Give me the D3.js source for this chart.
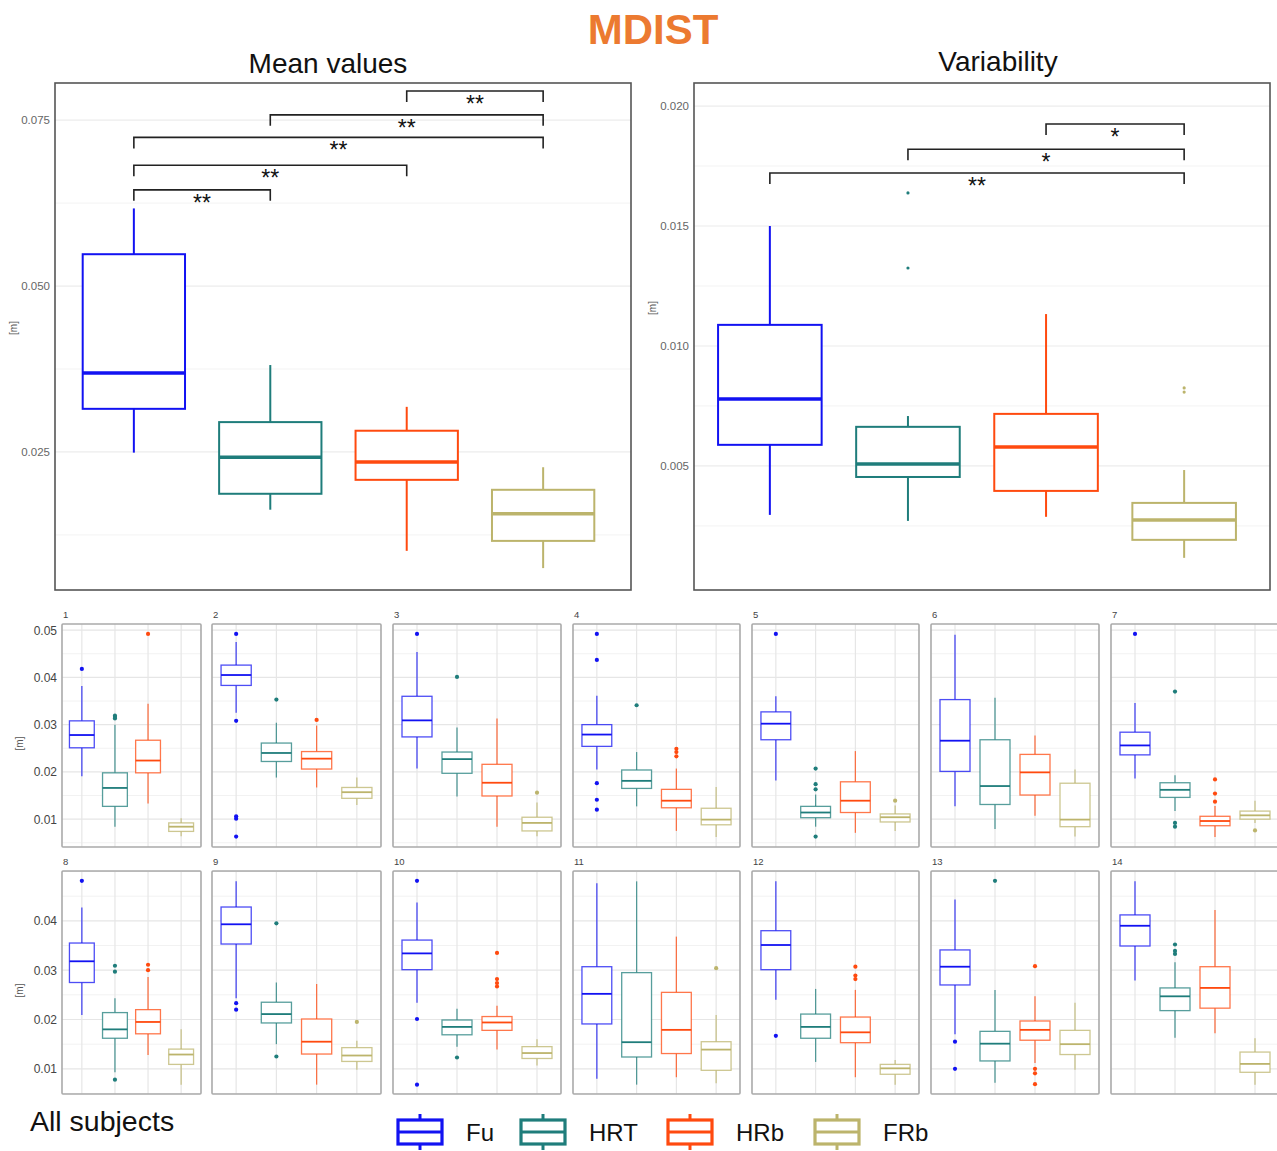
<!DOCTYPE html>
<html>
<head>
<meta charset="utf-8">
<script src="https://cdn.jsdelivr.net/npm/d3@7"></script>
<style>
  body { margin: 0; background: #fff; }
  svg { display: block; font-family: "Liberation Sans", Arial, sans-serif; }
</style>
</head>
<body>
<svg id="chart" width="1277" height="1151"></svg>
<script>
// groups and colours
const groups = ["Fu", "HRT", "HRb", "FRb"];
const colors = ["#1212f2", "#1f7d7b", "#ff4a0f", "#bcb46c"];

// box stats: [lower whisker, q1, median, q3, upper whisker]
const meanStats = [
  [0.0249, 0.0315, 0.0369, 0.0548, 0.0617],
  [0.0163, 0.0187, 0.0242, 0.0295, 0.0381],
  [0.0101, 0.0208, 0.0235, 0.0282, 0.0318],
  [0.0075, 0.0116, 0.0157, 0.0193, 0.0227]
];
const meanOutliers = [[], [], [], []];
const meanTicks = [0.025, 0.05, 0.075];
const meanLabels = ["0.025", "0.050", "0.075"];
// [from group, to group, height, label]
const meanBrackets = [
  [2, 3, 0.0794, "**"],
  [1, 3, 0.0758, "**"],
  [0, 3, 0.0724, "**"],
  [0, 2, 0.0682, "**"],
  [0, 1, 0.0645, "**"]
];

const varStats = [
  [0.00296, 0.00588, 0.00779, 0.01088, 0.0150],
  [0.00271, 0.00454, 0.00508, 0.00663, 0.00708],
  [0.00288, 0.00396, 0.00579, 0.00717, 0.01133],
  [0.00117, 0.00192, 0.00275, 0.00346, 0.00483]
];
const varOutliers = [[], [0.01638, 0.01325], [], [0.00825, 0.00808]];
const varTicks = [0.005, 0.010, 0.015, 0.020];
const varLabels = ["0.005", "0.010", "0.015", "0.020"];
const varBrackets = [
  [2, 3, 0.01925, "*"],
  [1, 3, 0.0182, "*"],
  [0, 3, 0.01721, "**"]
];

// subjects 1..14, each has 4 boxes (Fu, HRT, HRb, FRb)
const subjectStats = [
  [[0.0191,0.0251,0.0278,0.0308,0.0382],[0.0084,0.0127,0.0166,0.0198,0.0300],[0.0133,0.0198,0.0224,0.0267,0.0344],[0.0064,0.0074,0.0084,0.0092,0.0102]],
  [[0.0325,0.0383,0.0405,0.0426,0.0475],[0.0188,0.0222,0.0240,0.0261,0.0304],[0.0167,0.0206,0.0228,0.0243,0.0298],[0.0130,0.0144,0.0157,0.0167,0.0188]],
  [[0.0207,0.0274,0.0309,0.0360,0.0454],[0.0148,0.0197,0.0227,0.0242,0.0294],[0.0084,0.0149,0.0177,0.0216,0.0313],[0.0064,0.0075,0.0092,0.0104,0.0135]],
  [[0.0205,0.0254,0.0279,0.0300,0.0361],[0.0127,0.0165,0.0181,0.0204,0.0242],[0.0075,0.0124,0.0139,0.0163,0.0207],[0.0062,0.0088,0.0099,0.0123,0.0168]],
  [[0.0182,0.0268,0.0302,0.0327,0.0360],[0.0084,0.0103,0.0114,0.0127,0.0152],[0.0071,0.0114,0.0139,0.0179,0.0244],[0.0075,0.0094,0.0104,0.0111,0.0129]],
  [[0.0127,0.0201,0.0266,0.0353,0.0490],[0.0079,0.0131,0.0170,0.0268,0.0357],[0.0107,0.0151,0.0199,0.0237,0.0277],[0.0063,0.0084,0.0099,0.0176,0.0205]],
  [[0.0186,0.0236,0.0256,0.0284,0.0346],[0.0117,0.0146,0.0162,0.0177,0.0193],[0.0062,0.0086,0.0096,0.0106,0.0128],[0.0092,0.0100,0.0108,0.0117,0.0139]],
  [[0.0209,0.0275,0.0318,0.0355,0.0427],[0.0093,0.0162,0.0180,0.0214,0.0243],[0.0128,0.0171,0.0195,0.0220,0.0286],[0.0068,0.0109,0.0129,0.0140,0.0180]],
  [[0.0243,0.0353,0.0393,0.0428,0.0480],[0.0150,0.0193,0.0211,0.0235,0.0275],[0.0068,0.0130,0.0155,0.0201,0.0272],[0.0098,0.0115,0.0127,0.0143,0.0157]],
  [[0.0234,0.0301,0.0334,0.0361,0.0437],[0.0145,0.0169,0.0185,0.0199,0.0222],[0.0139,0.0178,0.0194,0.0206,0.0228],[0.0107,0.0121,0.0132,0.0145,0.0160]],
  [[0.0080,0.0191,0.0252,0.0307,0.0476],[0.0068,0.0124,0.0154,0.0295,0.0480],[0.0083,0.0131,0.0179,0.0255,0.0368],[0.0071,0.0097,0.0139,0.0155,0.0209]],
  [[0.0240,0.0301,0.0351,0.0380,0.0480],[0.0114,0.0162,0.0185,0.0211,0.0262],[0.0083,0.0153,0.0174,0.0205,0.0260],[0.0068,0.0089,0.0101,0.0109,0.0118]],
  [[0.0170,0.0270,0.0307,0.0341,0.0443],[0.0072,0.0116,0.0151,0.0176,0.0260],[0.0112,0.0158,0.0179,0.0197,0.0247],[0.0098,0.0129,0.0150,0.0178,0.0234]],
  [[0.0279,0.0349,0.0390,0.0412,0.0480],[0.0163,0.0218,0.0247,0.0264,0.0316],[0.0172,0.0223,0.0264,0.0307,0.0422],[0.0068,0.0093,0.0110,0.0134,0.0162]]
];
const subjectOutliers = [
  [[0.0418],[0.0319,0.0316,0.0313],[0.0492],[]],
  [[0.0492,0.0308,0.0106,0.0101,0.0063],[0.0353],[0.0310],[]],
  [[0.0492],[0.0401],[],[0.0156]],
  [[0.0492,0.0437,0.0176,0.0141,0.0120],[0.0341],[0.0249,0.0242,0.0233],[]],
  [[0.0492],[0.0207,0.0174,0.0163,0.0063],[],[0.0139]],
  [[],[],[],[]],
  [[0.0492],[0.0370,0.0092,0.0084],[0.0184,0.0154,0.0137],[0.0076]],
  [[0.0481],[0.0309,0.0297,0.0078],[0.0311,0.0300],[]],
  [[0.0233,0.0220],[0.0395,0.0125],[],[0.0195]],
  [[0.0481,0.0201,0.0068],[0.0123],[0.0335,0.0282,0.0274,0.0267],[]],
  [[],[],[],[0.0304]],
  [[0.0167],[],[0.0307,0.0289,0.0282],[]],
  [[0.0155,0.0100],[0.0481],[0.0308,0.0100,0.0091,0.0069],[]],
  [[],[0.0352,0.0339,0.0333],[],[]]
];
const row1Ticks = [0.01, 0.02, 0.03, 0.04, 0.05];
const row2Ticks = [0.01, 0.02, 0.03, 0.04];
const legendLabels = ["Fu", "HRT", "HRb", "FRb"];

const svg = d3.select("#chart");
svg.append("rect").attr("width", 1277).attr("height", 1151).attr("fill", "#fff");

// title
svg.append("text")
  .attr("x", 653).attr("y", 44)
  .attr("text-anchor", "middle")
  .attr("font-size", 42).attr("font-weight", "bold")
  .attr("fill", "#ec7a30")
  .text("MDIST");

function drawBox(g, x, y, s, outs, color, bw, big) {
  const lw = big ? 2 : 1.3;
  const op = big ? 1 : 0.75;
  const cx = x(groups[s.i]);
  const st = s.v;
  g.append("line")
    .attr("x1", cx).attr("x2", cx)
    .attr("y1", y(st[3])).attr("y2", y(st[4]))
    .attr("stroke", color).attr("stroke-width", lw).attr("stroke-opacity", op);
  g.append("line")
    .attr("x1", cx).attr("x2", cx)
    .attr("y1", y(st[0])).attr("y2", y(st[1]))
    .attr("stroke", color).attr("stroke-width", lw).attr("stroke-opacity", op);
  g.append("rect")
    .attr("x", cx - bw / 2).attr("width", bw)
    .attr("y", y(st[3])).attr("height", y(st[1]) - y(st[3]))
    .attr("fill", "#fff").attr("stroke", color)
    .attr("stroke-width", lw).attr("stroke-opacity", op);
  g.append("line")
    .attr("x1", cx - bw / 2).attr("x2", cx + bw / 2)
    .attr("y1", y(st[2])).attr("y2", y(st[2]))
    .attr("stroke", color).attr("stroke-width", big ? 3.5 : 1.8);
  g.selectAll(null).data(outs).enter().append("circle")
    .attr("cx", cx).attr("cy", d => y(d))
    .attr("r", big ? 1.6 : 2.1)
    .attr("fill", color);
}

function bigPanel(o) {
  const g = svg.append("g");
  const y = d3.scaleLinear().domain(o.domain).range([590, 83]);
  const x = d3.scalePoint().domain(groups).range(o.xr).padding(0.6);
  const bw = x.step() * 0.75;

  // grid (major + minor)
  const minor = o.ticks.map(t => t - (o.ticks[1] - o.ticks[0]) / 2)
    .concat([o.ticks[o.ticks.length - 1] + (o.ticks[1] - o.ticks[0]) / 2])
    .filter(v => v > o.domain[0] && v < o.domain[1]);
  g.selectAll(null).data(minor).enter().append("line")
    .attr("x1", o.bx[0]).attr("x2", o.bx[1])
    .attr("y1", d => y(d)).attr("y2", d => y(d))
    .attr("stroke", "#f3f3f3").attr("stroke-width", 1);
  g.selectAll(null).data(o.ticks).enter().append("line")
    .attr("x1", o.bx[0]).attr("x2", o.bx[1])
    .attr("y1", d => y(d)).attr("y2", d => y(d))
    .attr("stroke", "#ececec").attr("stroke-width", 1.2);

  g.append("rect")
    .attr("x", o.bx[0]).attr("y", 83)
    .attr("width", o.bx[1] - o.bx[0]).attr("height", 507)
    .attr("fill", "none").attr("stroke", "#555").attr("stroke-width", 1.6);

  g.selectAll(null).data(o.ticks).enter().append("text")
    .attr("x", o.bx[0] - 5).attr("y", d => y(d) + 4)
    .attr("text-anchor", "end").attr("font-size", 11.5).attr("fill", "#666")
    .text((d, i) => o.labels[i]);

  g.append("text")
    .attr("transform", `translate(${o.bx[0] - 38},${o.labelY}) rotate(-90)`)
    .attr("text-anchor", "middle").attr("font-size", 10).attr("fill", "#555")
    .text("[m]");

  g.append("text")
    .attr("x", o.titleX).attr("y", o.titleY)
    .attr("text-anchor", "middle").attr("font-size", 28).attr("fill", "#111")
    .text(o.title);

  o.stats.forEach((st, i) => drawBox(g, x, y, {i: i, v: st}, o.outliers[i], colors[i], bw, true));

  // significance brackets
  o.brackets.forEach(b => {
    const x1 = x(groups[b[0]]), x2 = x(groups[b[1]]), by = y(b[2]);
    g.append("path")
      .attr("d", `M${x1},${by + 11}V${by}H${x2}V${by + 11}`)
      .attr("fill", "none").attr("stroke", "#222").attr("stroke-width", 1.6);
    g.append("text")
      .attr("x", (x1 + x2) / 2).attr("y", by + 21)
      .attr("text-anchor", "middle").attr("font-size", 23).attr("fill", "#111")
      .text(b[3]);
  });
}

bigPanel({
  domain: [0.0042, 0.0806], xr: [52, 625], bx: [55, 631],
  ticks: meanTicks, labels: meanLabels, stats: meanStats, outliers: meanOutliers,
  brackets: meanBrackets, title: "Mean values", titleX: 328, titleY: 73, labelY: 328
});
bigPanel({
  domain: [-0.00017, 0.02096], xr: [687, 1267], bx: [694, 1270],
  ticks: varTicks, labels: varLabels, stats: varStats, outliers: varOutliers,
  brackets: varBrackets, title: "Variability", titleX: 998, titleY: 71, labelY: 308
});

// subject panels
const panelLeft = [62, 212, 393, 573, 752, 931, 1111];
const panelRight = [201, 381, 561, 740, 919, 1099, 1279];
const rows = [
  {top: 624, bottom: 847, domain: [0.0041, 0.0513], ticks: row1Ticks},
  {top: 871, bottom: 1094, domain: [0.0049, 0.0501], ticks: row2Ticks}
];

subjectStats.forEach((stats, p) => {
  const r = rows[Math.floor(p / 7)];
  const c = p % 7;
  const g = svg.append("g");
  const y = d3.scaleLinear().domain(r.domain).range([r.bottom, r.top]);
  const x = d3.scalePoint().domain(groups).range([panelLeft[c], panelRight[c]]).padding(0.6);
  const bw = x.step() * 0.75;

  const major = d3.range(0.01, 0.0501, 0.01).filter(v => v > r.domain[0] && v < r.domain[1]);
  const minor = d3.range(0.005, 0.0501, 0.01).filter(v => v > r.domain[0] && v < r.domain[1]);
  g.selectAll(null).data(minor).enter().append("line")
    .attr("x1", panelLeft[c]).attr("x2", panelRight[c])
    .attr("y1", d => y(d)).attr("y2", d => y(d))
    .attr("stroke", "#f2f2f2").attr("stroke-width", 1);
  g.selectAll(null).data(major).enter().append("line")
    .attr("x1", panelLeft[c]).attr("x2", panelRight[c])
    .attr("y1", d => y(d)).attr("y2", d => y(d))
    .attr("stroke", "#e6e6e6").attr("stroke-width", 1.2);
  g.selectAll(null).data(groups).enter().append("line")
    .attr("x1", d => x(d)).attr("x2", d => x(d))
    .attr("y1", r.top).attr("y2", r.bottom)
    .attr("stroke", "#e6e6e6").attr("stroke-width", 1.2);

  stats.forEach((st, i) => drawBox(g, x, y, {i: i, v: st}, subjectOutliers[p][i], colors[i], bw, false));

  g.append("rect")
    .attr("x", panelLeft[c]).attr("y", r.top)
    .attr("width", panelRight[c] - panelLeft[c]).attr("height", r.bottom - r.top)
    .attr("fill", "none").attr("stroke", "#aaa").attr("stroke-width", 1.6).attr("rx", 1);

  g.append("text")
    .attr("x", panelLeft[c] + 1).attr("y", r.top - 6)
    .attr("font-size", 9.5).attr("fill", "#444")
    .text(p + 1);

  if (c === 0) {
    g.selectAll(null).data(r.ticks).enter().append("text")
      .attr("x", panelLeft[c] - 5).attr("y", d => y(d) + 4.5)
      .attr("text-anchor", "end").attr("font-size", 12).attr("fill", "#444")
      .text(d => d3.format(".2f")(d));
    g.append("text")
      .attr("transform", `translate(${panelLeft[c] - 39},${(r.top + r.bottom) / 2 + 8}) rotate(-90)`)
      .attr("text-anchor", "middle").attr("font-size", 10).attr("fill", "#555")
      .text("[m]");
  }
});

// legend
svg.append("text")
  .attr("x", 30).attr("y", 1131)
  .attr("font-size", 28.5).attr("fill", "#111")
  .text("All subjects");

const legendX = [398, 521, 668, 815];
const lg = svg.append("g");
legendLabels.forEach((lab, i) => {
  const x0 = legendX[i], w = 44, cx = x0 + w / 2;
  lg.append("line").attr("x1", cx).attr("x2", cx).attr("y1", 1114).attr("y2", 1150)
    .attr("stroke", colors[i]).attr("stroke-width", 3);
  lg.append("rect").attr("x", x0).attr("y", 1120).attr("width", w).attr("height", 24)
    .attr("fill", "#fff").attr("stroke", colors[i]).attr("stroke-width", 3.2);
  lg.append("line").attr("x1", x0).attr("x2", x0 + w).attr("y1", 1132).attr("y2", 1132)
    .attr("stroke", colors[i]).attr("stroke-width", 3);
  lg.append("text")
    .attr("x", x0 + w + 24).attr("y", 1141)
    .attr("font-size", 24).attr("fill", "#111")
    .text(lab);
});
</script>
</body>
</html>
